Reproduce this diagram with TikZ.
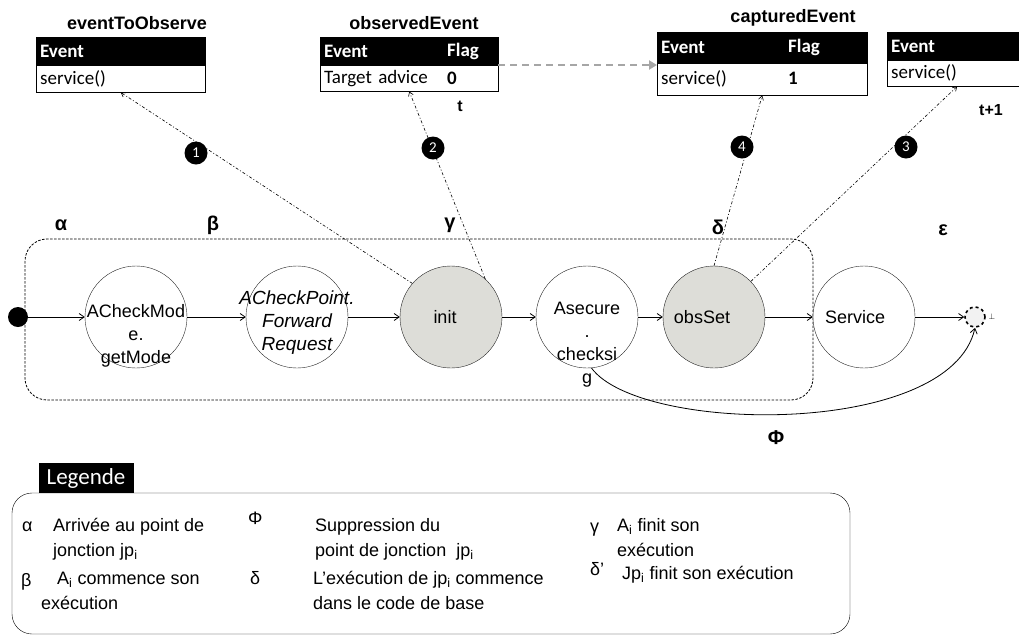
\documentclass[tikz,border=0pt]{standalone}
\usepackage{fontspec}
\setmainfont{Liberation Sans}
\newfontfamily\calfont{Carlito}
\usetikzlibrary{arrows.meta, positioning, calc}
\definecolor{stategray}{RGB}{221,221,216}

\begin{document}
\begin{tikzpicture}[x=1pt, y=-1pt,
  state/.style={circle, draw=black!85, minimum size=102pt, inner sep=0pt, fill=white},
  obsstate/.style={state, fill=stategray},
  stxt/.style={align=center, font=\fontsize{18}{23}\selectfont, inner sep=0pt},
  ttl/.style={font=\bfseries\fontsize{18}{20}\selectfont, inner sep=0pt},
  tabhead/.style={draw=black, fill=black, text=white, anchor=north west,
                  font=\calfont\bfseries\fontsize{19}{20}\selectfont,
                  inner xsep=4pt, inner ysep=0pt, align=left},
  tabrow/.style={draw=black, fill=white, anchor=north west,
                 font=\calfont\fontsize{19}{20}\selectfont,
                 inner xsep=4pt, inner ysep=0pt, align=left},
  celltxt/.style={anchor=west, inner sep=0pt, font=\calfont\bfseries\fontsize{19}{20}\selectfont},
  badge/.style={circle, fill=black, text=white, minimum size=23pt, inner sep=0pt,
                font=\calfont\fontsize{15}{15}\selectfont},
  greek/.style={font=\bfseries\fontsize{20}{20}\selectfont, inner sep=0pt},
  legtxt/.style={anchor=base west, align=left, inner sep=0pt, font=\fontsize{18}{25}\selectfont},
  flow/.style={-{Straight Barb[length=5pt,width=7pt]}, line width=0.8pt},
  obsarr/.style={-{Straight Barb[length=4pt,width=5pt]}, line width=0.6pt,
                 dash pattern=on 3pt off 2pt on 1pt off 2pt},
  flagarr/.style={-{Triangle[length=8pt,width=9pt]}, draw=black!35, line width=2pt,
                  dash pattern=on 7pt off 5pt}
]
\useasboundingbox (0,0) rectangle (1019,638);

% Event tables
\node[ttl] (etoTitle) at (137,23) {eventToObserve};
\node[tabhead, text width=161pt, minimum height=28pt] (etoHead) at (36,37) {Event};
\node[tabrow, text width=161pt, minimum height=27pt] (etoRow) at (36,65) {service()};

\node[ttl] (obsTitle) at (414,23) {observedEvent};
\node[tabhead, text width=170pt, minimum height=28pt] (obsHead) at (320,37) {Event};
\node[tabrow, text width=170pt, minimum height=26pt] (obsRow) at (320,65) {Target advice};
\node[celltxt, text=white] (obsFlag) at (447,51) {Flag};
\node[celltxt] (obsVal) at (447,78) {0};
\node[ttl, font=\bfseries\fontsize{16}{16}\selectfont] (tNow) at (460,106) {t};

\node[ttl] (capTitle) at (793,18) {capturedEvent};
\node[tabhead, text width=202pt, minimum height=31pt] (capHead) at (657,32) {Event};
\node[tabrow, text width=202pt, minimum height=32pt] (capRow) at (657,63) {service()};
\node[celltxt, text=white] (capFlag) at (788,47) {Flag};
\node[celltxt] (capVal) at (788,78) {1};

\node[tabhead, text width=132pt, minimum height=28pt] (nextHead) at (887,32) {Event};
\node[tabrow, text width=132pt, minimum height=26pt] (nextRow) at (887,60) {service()};
\node[ttl, font=\bfseries\fontsize{16}{16}\selectfont] (tNext) at (991,110) {t+1};

\draw[flagarr] (obsRow.north east) -- (obsRow.north east -| capRow.west);

% Join point box
\draw[line width=0.8pt, dash pattern=on 2.5pt off 1.5pt, rounded corners=22pt] (25,239) rectangle (813,400);

% States
\node[circle, fill=black, minimum size=20pt, inner sep=0pt] (start) at (18,317) {};
\node[state] (chkMode) at (136,317) {};
\node[state] (chkPoint) at (297,317) {};
\node[obsstate] (init) at (451,317) {};
\node[state] (secure) at (587,317) {};
\node[obsstate] (obsSet) at (714,317) {};
\node[state] (service) at (864,317) {};
\node[circle, draw, dashed, line width=1.6pt, fill=black!5, minimum size=20pt, inner sep=0pt] (endpt) at (975,317) {};
\node[font=\fontsize{8}{8}\selectfont, inner sep=0pt] (endBot) at (992,317) {$\perp$};

\node[stxt] (chkModeTxt) at ([yshift=-19pt]chkMode.center) {ACheckMod\\e.\\getMode};
\node[stxt, font=\itshape\fontsize{19}{23}\selectfont] (chkPointTxt) at ([yshift=-6pt]chkPoint.center) {ACheckPoint.\\Forward\\Request};
\node[stxt] (initTxt) at ([xshift=-6pt]init.center) {init};
\node[stxt] (secureTxt) at ([yshift=-28pt]secure.center) {Asecure\\.\\checksi\\g};
\node[stxt] (obsSetTxt) at ([xshift=-12pt]obsSet.center) {obsSet};
\node[stxt] (serviceTxt) at ([xshift=-9pt]service.center) {Service};

\draw[flow] (start) -- (chkMode);
\draw[flow] (chkMode) -- (chkPoint);
\draw[flow] (chkPoint) -- (init);
\draw[flow] (init) -- (secure);
\draw[flow] (secure) -- (obsSet);
\draw[flow] (obsSet) -- (service);
\draw[flow] (service) -- (endpt);
\draw[flow] (secure.-85) .. controls (640,434) and (950,438) .. (endpt.south);

% Observation links
\draw[obsarr] (init.139) -- (etoRow.south);
\draw[obsarr] (init.48) -- (obsRow.south);
\draw[obsarr] (obsSet.north) -- (capRow.south);
\draw[obsarr] (obsSet.44) -- (nextRow.south);
\node[badge] (b1) at (196,153) {1};
\node[badge] (b2) at (433,148) {2};
\node[badge] (b4) at (742,147) {4};
\node[badge] (b3) at (906,147) {3};

% Greek markers
\node[greek] (alpha) at (61,225) {α};
\node[greek] (beta) at (213,225) {β};
\node[greek] (gamma) at (450,225) {γ};
\node[greek] (delta) at (718,227) {δ};
\node[greek] (eps) at (943,230) {ε};
\node[greek] (phi) at (776,438) {Φ};

% Legend
\draw[rounded corners=20pt] (12,493) rectangle (850,634);
\node[fill=black, text=white, minimum width=95pt, minimum height=30pt, inner sep=0pt,
      font=\calfont\fontsize{23}{23}\selectfont] (legTitle) at (86,478) {Legende};

\node[legtxt] (lAlpha) at (22,531) {α};
\node[legtxt] (lAlphaTxt) at (53,556) {Arrivée au point de\\jonction jp\textsubscript{i}};
\node[legtxt] (lBeta) at (21,586) {β};
\node[legtxt] (lBetaTxt) at (41,609) {\hspace*{16pt}A\textsubscript{i} commence son\\exécution};
\node[legtxt] (lPhi) at (248,524) {Φ};
\node[legtxt] (lPhiTxt) at (315,556) {Suppression du\\point de jonction\ \ jp\textsubscript{i}};
\node[legtxt] (lDelta) at (250,584) {δ};
\node[legtxt] (lDeltaTxt) at (313,609) {L’exécution de jp\textsubscript{i} commence\\dans le code de base};
\node[legtxt] (lGamma) at (590,532) {γ};
\node[legtxt] (lGammaTxt) at (617,556) {A\textsubscript{i} finit son\\exécution};
\node[legtxt] (lDeltaP) at (590,575) {δ’};
\node[legtxt] (lDeltaPTxt) at (622,579) {Jp\textsubscript{i} finit son exécution};
\end{tikzpicture}
\end{document}
